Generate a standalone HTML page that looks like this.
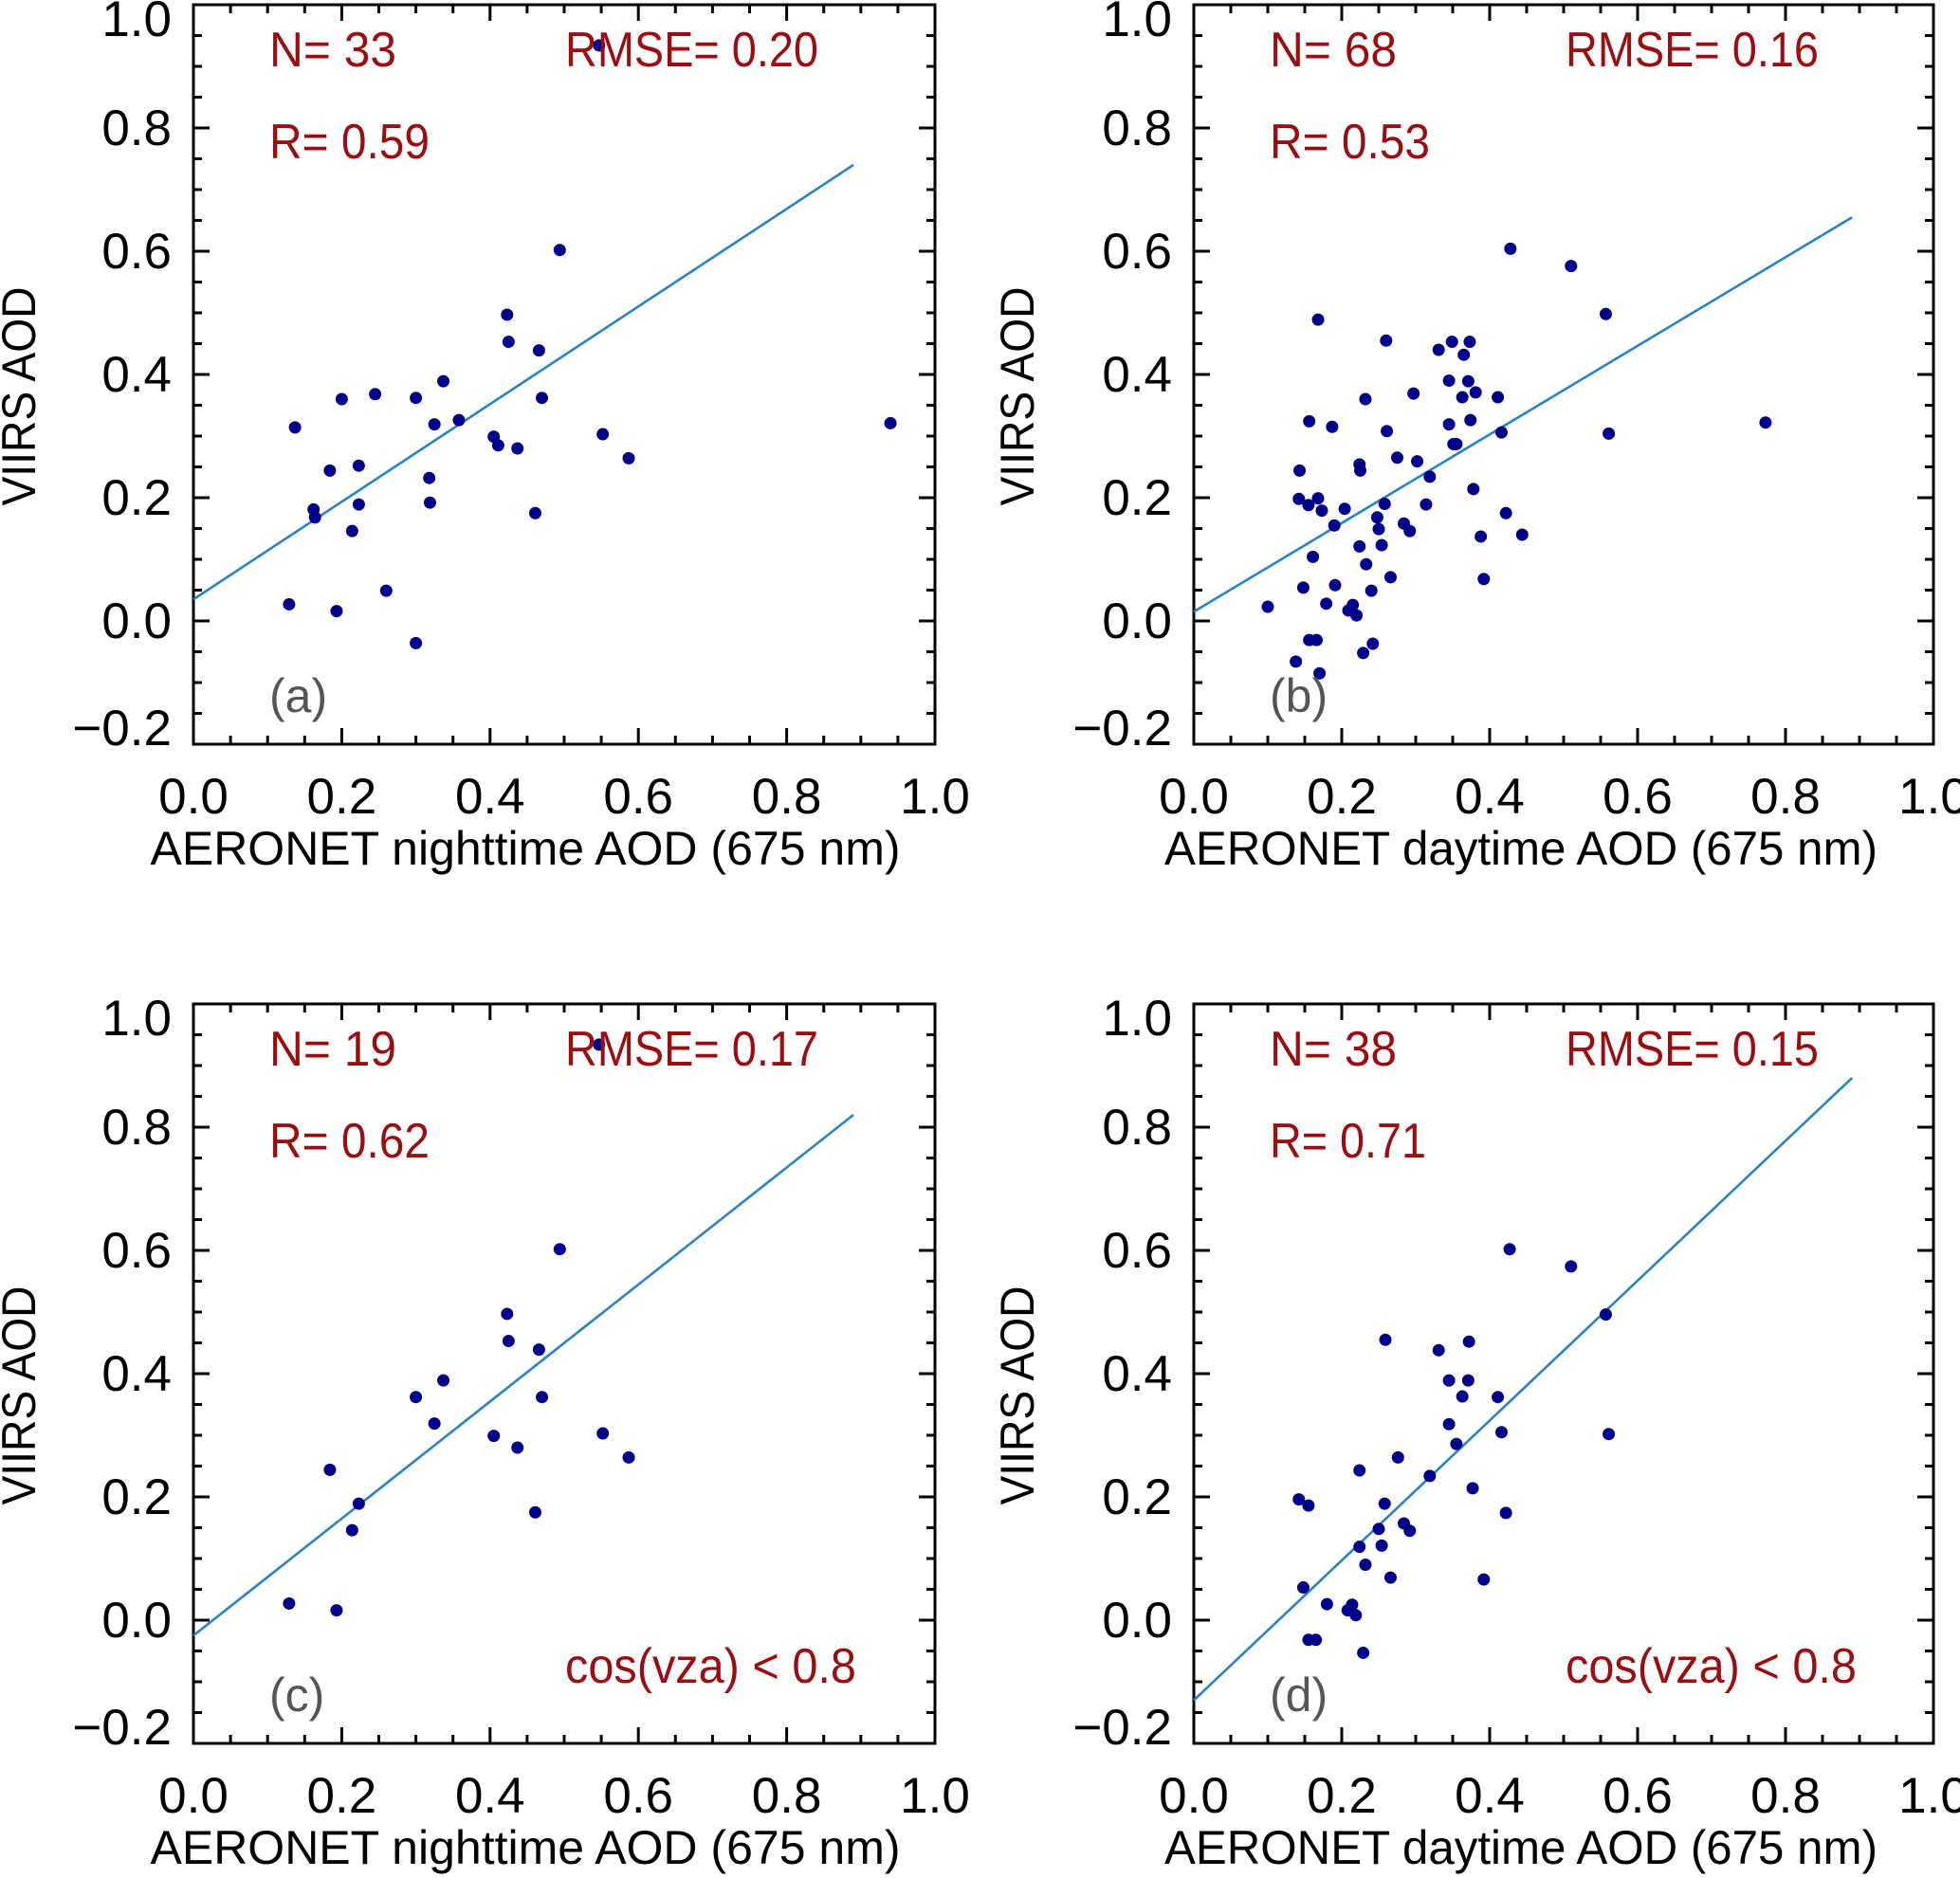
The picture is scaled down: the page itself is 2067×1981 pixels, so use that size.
<!DOCTYPE html>
<html><head><meta charset="utf-8"><style>
html,body{margin:0;padding:0;background:#fff;}
svg{display:block;font-family:"Liberation Sans",sans-serif;}
</style></head><body>
<svg id="fig" width="2067" height="1981" viewBox="0 0 2067 1981" xmlns="http://www.w3.org/2000/svg"></svg>
<script>
const xTicks = [0.0, 0.2, 0.4, 0.6, 0.8, 1.0];
const xTickLabels = ["0.0","0.2","0.4","0.6","0.8","1.0"];
const yTicks = [-0.2, 0.0, 0.2, 0.4, 0.6, 0.8, 1.0];
const yTickLabels = ["\u22120.2","0.0","0.2","0.4","0.6","0.8","1.0"];
const panelLetters = ["(a)","(b)","(c)","(d)"];
const panelN = ["N= 33","N= 68","N= 19","N= 38"];
const panelR = ["R= 0.59","R= 0.53","R= 0.62","R= 0.71"];
const panelRMSE = ["RMSE= 0.20","RMSE= 0.16","RMSE= 0.17","RMSE= 0.15"];
const xTitles = ["AERONET nighttime AOD (675 nm)","AERONET daytime AOD (675 nm)","AERONET nighttime AOD (675 nm)","AERONET daytime AOD (675 nm)"];
const fitX = [0, 0.89];
const fitA = [0.035, 0.74];
const fitB = [0.015, 0.655];
const fitC = [-0.025, 0.82];
const fitD = [-0.13, 0.88];
const ptsA = [[0.547,0.934],[0.494,0.602],[0.423,0.497],[0.425,0.453],[0.466,0.439],[0.470,0.362],[0.337,0.389],[0.245,0.368],[0.200,0.360],[0.300,0.362],[0.137,0.314],[0.325,0.319],[0.358,0.326],[0.405,0.299],[0.411,0.285],[0.437,0.280],[0.552,0.303],[0.587,0.264],[0.940,0.321],[0.184,0.244],[0.223,0.252],[0.318,0.232],[0.319,0.192],[0.223,0.189],[0.162,0.181],[0.164,0.168],[0.214,0.146],[0.461,0.175],[0.260,0.049],[0.129,0.027],[0.193,0.016],[0.300,-0.036]];
const ptsB = [[0.428,0.604],[0.510,0.576],[0.557,0.498],[0.561,0.304],[0.168,0.489],[0.260,0.455],[0.331,0.440],[0.349,0.453],[0.373,0.453],[0.365,0.432],[0.345,0.390],[0.371,0.389],[0.381,0.371],[0.363,0.363],[0.411,0.363],[0.297,0.369],[0.232,0.360],[0.156,0.324],[0.187,0.315],[0.261,0.308],[0.345,0.319],[0.374,0.326],[0.416,0.306],[0.351,0.287],[0.355,0.287],[0.275,0.265],[0.302,0.259],[0.224,0.254],[0.225,0.244],[0.143,0.244],[0.319,0.234],[0.378,0.214],[0.142,0.198],[0.168,0.199],[0.155,0.188],[0.173,0.179],[0.204,0.182],[0.258,0.190],[0.314,0.189],[0.248,0.168],[0.190,0.155],[0.250,0.149],[0.284,0.158],[0.292,0.146],[0.422,0.175],[0.388,0.137],[0.444,0.140],[0.224,0.121],[0.254,0.123],[0.161,0.104],[0.233,0.092],[0.266,0.071],[0.392,0.068],[0.148,0.054],[0.191,0.058],[0.240,0.049],[0.100,0.023],[0.179,0.028],[0.215,0.026],[0.209,0.017],[0.220,0.009],[0.156,-0.031],[0.166,-0.031],[0.242,-0.037],[0.229,-0.052],[0.138,-0.066],[0.170,-0.085],[0.773,0.322]];
const ptsC = [[0.547,0.934],[0.494,0.602],[0.423,0.497],[0.425,0.453],[0.466,0.439],[0.470,0.362],[0.337,0.389],[0.300,0.362],[0.325,0.319],[0.405,0.299],[0.437,0.280],[0.552,0.303],[0.587,0.264],[0.184,0.244],[0.223,0.189],[0.214,0.146],[0.461,0.175],[0.129,0.027],[0.193,0.016]];
const ptsD = [[0.427,0.602],[0.510,0.574],[0.557,0.496],[0.561,0.302],[0.259,0.455],[0.372,0.452],[0.331,0.438],[0.345,0.389],[0.371,0.389],[0.363,0.363],[0.411,0.362],[0.345,0.318],[0.416,0.305],[0.355,0.286],[0.276,0.264],[0.224,0.243],[0.319,0.234],[0.377,0.214],[0.142,0.196],[0.155,0.186],[0.258,0.189],[0.422,0.174],[0.284,0.157],[0.292,0.145],[0.250,0.148],[0.254,0.121],[0.224,0.119],[0.232,0.090],[0.266,0.069],[0.392,0.066],[0.148,0.053],[0.180,0.026],[0.214,0.025],[0.208,0.016],[0.219,0.008],[0.155,-0.032],[0.165,-0.032],[0.229,-0.053]];

const NS="http://www.w3.org/2000/svg";
const svg=document.getElementById('fig');
function mk(tag,attrs,parent){const e=document.createElementNS(NS,tag);for(const k in attrs)e.setAttribute(k,attrs[k]);(parent||svg).appendChild(e);return e;}
const panels=[
 {L:204,R:986,T:5,B:785,pts:ptsA,fit:fitA,cos:false},
 {L:1259,R:2039,T:5,B:785,pts:ptsB,fit:fitB,cos:false},
 {L:204,R:986,T:1059,B:1839,pts:ptsC,fit:fitC,cos:true},
 {L:1259,R:2039,T:1059,B:1839,pts:ptsD,fit:fitD,cos:true}];
const red="#9a0e12";
panels.forEach((p,i)=>{
  const g=mk('g',{});
  
  
  const sx=v=>p.L+(v-0)/(1-0)*(p.R-p.L);
  const sy=v=>p.B-(v+0.2)/1.2*(p.B-p.T);
  for(let k=0;k<=20;k++){const v=k*0.05;const major=k%4===0;const len=major?17:9;const x=sx(v);
    mk('line',{x1:x,y1:p.B,x2:x,y2:p.B-len,stroke:'#000','stroke-width':3},g);
    mk('line',{x1:x,y1:p.T,x2:x,y2:p.T+len,stroke:'#000','stroke-width':3},g);}
  for(let k=0;k<=24;k++){const v=-0.2+k*0.05;const major=k%4===0;const len=major?17:9;const y=sy(v);
    mk('line',{x1:p.L,y1:y,x2:p.L+len,y2:y,stroke:'#000','stroke-width':3},g);
    mk('line',{x1:p.R,y1:y,x2:p.R-len,y2:y,stroke:'#000','stroke-width':3},g);}
  const fr=mk('rect',{x:p.L,y:p.T,width:p.R-p.L,height:p.B-p.T,fill:'none',stroke:'#000','stroke-width':3},g);
  
  
  xTicks.forEach((v,j)=>{const t=mk('text',{x:sx(v),y:p.B+73,'font-size':53,'text-anchor':'middle'},g);t.textContent=xTickLabels[j];
    
    });
  yTicks.forEach((v,j)=>{let yy=sy(v)+18;if(j===yTicks.length-1)yy=p.T+33;if(j===0)yy=p.B+1;
    const t=mk('text',{x:p.L-23,y:yy,'font-size':53,'text-anchor':'end'},g);t.textContent=yTickLabels[j];
    
    });
  const xt=mk('text',{x:(p.L+p.R)/2-(i%2?45:41),y:p.B+127,'font-size':50,'text-anchor':'middle',textLength:i%2?752:791,lengthAdjust:'spacingAndGlyphs'},g);
  xt.textContent=xTitles[i];
  
  
  const cy=(p.T+p.B)/2+23, cx=p.L-(i%2?169:167);
  const yt=mk('text',{x:cx,y:cy,'font-size':50,'text-anchor':'middle',textLength:231,lengthAdjust:'spacingAndGlyphs',transform:`rotate(-90 ${cx} ${cy})`},g);
  yt.textContent="VIIRS AOD";
  
  
  const fl=mk('line',{x1:sx(fitX[0]),y1:sy(p.fit[0]),x2:sx(fitX[1]),y2:sy(p.fit[1]),stroke:'#2a82c4','stroke-width':2.6},g);
  
  
  p.pts.forEach(pt=>{const c=mk('circle',{cx:sx(pt[0]),cy:sy(pt[1]),r:6.5,fill:'#00008b'},g);
    
    });
  const tn=mk('text',{x:p.L+80,y:p.T+65,'font-size':52,fill:red,textLength:134,lengthAdjust:'spacingAndGlyphs'},g);tn.textContent=panelN[i];
  
  
  const tr=mk('text',{x:p.L+80,y:p.T+162,'font-size':52,fill:red,textLength:i===3?165:169,lengthAdjust:'spacingAndGlyphs'},g);tr.textContent=panelR[i];
  
  
  const tm=mk('text',{x:p.L+392,y:p.T+65,'font-size':52,fill:red,textLength:267,lengthAdjust:'spacingAndGlyphs'},g);tm.textContent=panelRMSE[i];
  
  
  const tl=mk('text',{x:p.L+80,y:p.B-34,'font-size':50,fill:'#555'},g);tl.textContent=panelLetters[i];
  
  
  if(p.cos){const tc=mk('text',{x:p.L+392,y:p.B-64,'font-size':52,fill:red,textLength:307,lengthAdjust:'spacingAndGlyphs'},g);tc.textContent="cos(vza) < 0.8";
    
    }
});
</script>
</body></html>
